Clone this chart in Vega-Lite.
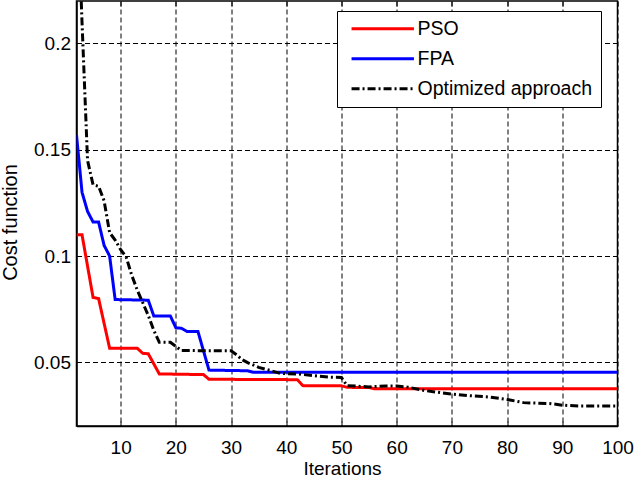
{
  "$schema": "https://vega.github.io/schema/vega-lite/v6.json",
  "width": 541,
  "height": 425,
  "autosize": "none",
  "padding": {"left": 76.5, "top": 1, "right": 17.5, "bottom": 52},
  "background": "white",
  "config": {
    "view": {"stroke": "black", "strokeWidth": 1.5},
    "font": "Liberation Sans",
    "axis": {
      "labelFont": "Liberation Sans",
      "labelColor": "black",
      "labelFontSize": 19,
      "labelFlush": false,
      "labelOverlap": false,
      "titleFont": "Liberation Sans",
      "titleColor": "black",
      "titleFontWeight": "normal",
      "titleFontSize": 19,
      "tickColor": "black",
      "tickWidth": 1,
      "tickSize": -5,
      "domainColor": "black",
      "domainWidth": 1.5,
      "gridColor": "black",
      "gridOpacity": 1,
      "gridWidth": 1,
      "gridDash": [5, 3]
    },
    "legend": {
      "labelFont": "Liberation Sans",
      "labelFontSize": 19.5,
      "labelColor": "black",
      "labelLimit": 400
    }
  },
  "data": {
    "values": [
      {"method": "PSO", "iteration": 2, "cost": 0.110},
      {"method": "PSO", "iteration": 3, "cost": 0.110},
      {"method": "PSO", "iteration": 5, "cost": 0.0805},
      {"method": "PSO", "iteration": 6, "cost": 0.0800},
      {"method": "PSO", "iteration": 8, "cost": 0.0566},
      {"method": "PSO", "iteration": 13, "cost": 0.0566},
      {"method": "PSO", "iteration": 14, "cost": 0.0542},
      {"method": "PSO", "iteration": 15, "cost": 0.0540},
      {"method": "PSO", "iteration": 17, "cost": 0.0445},
      {"method": "PSO", "iteration": 25, "cost": 0.0442},
      {"method": "PSO", "iteration": 26, "cost": 0.0420},
      {"method": "PSO", "iteration": 42, "cost": 0.0418},
      {"method": "PSO", "iteration": 43, "cost": 0.0390},
      {"method": "PSO", "iteration": 50, "cost": 0.0389},
      {"method": "PSO", "iteration": 51, "cost": 0.0382},
      {"method": "PSO", "iteration": 55, "cost": 0.0381},
      {"method": "PSO", "iteration": 56, "cost": 0.0375},
      {"method": "PSO", "iteration": 100, "cost": 0.0375},
      {"method": "FPA", "iteration": 2, "cost": 0.157},
      {"method": "FPA", "iteration": 3, "cost": 0.130},
      {"method": "FPA", "iteration": 4, "cost": 0.121},
      {"method": "FPA", "iteration": 5, "cost": 0.116},
      {"method": "FPA", "iteration": 6, "cost": 0.116},
      {"method": "FPA", "iteration": 7, "cost": 0.105},
      {"method": "FPA", "iteration": 8, "cost": 0.100},
      {"method": "FPA", "iteration": 9, "cost": 0.0795},
      {"method": "FPA", "iteration": 15, "cost": 0.0792},
      {"method": "FPA", "iteration": 16, "cost": 0.0718},
      {"method": "FPA", "iteration": 19, "cost": 0.0718},
      {"method": "FPA", "iteration": 20, "cost": 0.0662},
      {"method": "FPA", "iteration": 21, "cost": 0.0660},
      {"method": "FPA", "iteration": 22, "cost": 0.0645},
      {"method": "FPA", "iteration": 24, "cost": 0.0645},
      {"method": "FPA", "iteration": 26, "cost": 0.0463},
      {"method": "FPA", "iteration": 33, "cost": 0.0460},
      {"method": "FPA", "iteration": 34, "cost": 0.0453},
      {"method": "FPA", "iteration": 100, "cost": 0.0453},
      {"method": "Optimized approach", "iteration": 2, "cost": 0.280},
      {"method": "Optimized approach", "iteration": 3, "cost": 0.210},
      {"method": "Optimized approach", "iteration": 4, "cost": 0.145},
      {"method": "Optimized approach", "iteration": 5, "cost": 0.1335},
      {"method": "Optimized approach", "iteration": 6, "cost": 0.1328},
      {"method": "Optimized approach", "iteration": 7, "cost": 0.126},
      {"method": "Optimized approach", "iteration": 8, "cost": 0.111},
      {"method": "Optimized approach", "iteration": 9, "cost": 0.1075},
      {"method": "Optimized approach", "iteration": 10, "cost": 0.103},
      {"method": "Optimized approach", "iteration": 11, "cost": 0.0995},
      {"method": "Optimized approach", "iteration": 12, "cost": 0.091},
      {"method": "Optimized approach", "iteration": 13, "cost": 0.084},
      {"method": "Optimized approach", "iteration": 14, "cost": 0.078},
      {"method": "Optimized approach", "iteration": 15, "cost": 0.072},
      {"method": "Optimized approach", "iteration": 16, "cost": 0.065},
      {"method": "Optimized approach", "iteration": 17, "cost": 0.0594},
      {"method": "Optimized approach", "iteration": 19, "cost": 0.0594},
      {"method": "Optimized approach", "iteration": 20, "cost": 0.0575},
      {"method": "Optimized approach", "iteration": 21, "cost": 0.0555},
      {"method": "Optimized approach", "iteration": 30, "cost": 0.0554},
      {"method": "Optimized approach", "iteration": 31, "cost": 0.0535},
      {"method": "Optimized approach", "iteration": 32, "cost": 0.0512},
      {"method": "Optimized approach", "iteration": 33, "cost": 0.0498},
      {"method": "Optimized approach", "iteration": 35, "cost": 0.0476},
      {"method": "Optimized approach", "iteration": 37, "cost": 0.0462},
      {"method": "Optimized approach", "iteration": 39, "cost": 0.0447},
      {"method": "Optimized approach", "iteration": 42, "cost": 0.0445},
      {"method": "Optimized approach", "iteration": 45, "cost": 0.0437},
      {"method": "Optimized approach", "iteration": 48, "cost": 0.0430},
      {"method": "Optimized approach", "iteration": 50, "cost": 0.0428},
      {"method": "Optimized approach", "iteration": 51, "cost": 0.0390},
      {"method": "Optimized approach", "iteration": 55, "cost": 0.0384},
      {"method": "Optimized approach", "iteration": 58, "cost": 0.0388},
      {"method": "Optimized approach", "iteration": 60, "cost": 0.0388},
      {"method": "Optimized approach", "iteration": 62, "cost": 0.0383},
      {"method": "Optimized approach", "iteration": 65, "cost": 0.0367},
      {"method": "Optimized approach", "iteration": 70, "cost": 0.0350},
      {"method": "Optimized approach", "iteration": 73, "cost": 0.0343},
      {"method": "Optimized approach", "iteration": 77, "cost": 0.0336},
      {"method": "Optimized approach", "iteration": 80, "cost": 0.0325},
      {"method": "Optimized approach", "iteration": 83, "cost": 0.0310},
      {"method": "Optimized approach", "iteration": 88, "cost": 0.0305},
      {"method": "Optimized approach", "iteration": 90, "cost": 0.0298},
      {"method": "Optimized approach", "iteration": 93, "cost": 0.0294},
      {"method": "Optimized approach", "iteration": 100, "cost": 0.0294}
    ]
  },
  "layer": [
    {
      "mark": {"type": "line", "strokeWidth": 3, "clip": true},
      "encoding": {
        "x": {
          "field": "iteration",
          "type": "quantitative",
          "scale": {"domain": [2, 100], "nice": false, "zero": false},
          "axis": {
            "orient": "bottom",
            "values": [10, 20, 30, 40, 50, 60, 70, 80, 90, 100],
            "format": "d",
            "grid": true,
            "labelPadding": 17,
            "title": "Iterations",
            "titleX": 265.5,
            "titleY": 48,
            "titleBaseline": "alphabetic"
          }
        },
        "y": {
          "field": "cost",
          "type": "quantitative",
          "scale": {"domain": [0.02, 0.22], "nice": false, "zero": false},
          "axis": {
            "orient": "left",
            "values": [0.05, 0.1, 0.15, 0.2],
            "format": "~g",
            "grid": true,
            "labelPadding": 11,
            "title": "Cost function",
            "titleFontSize": 20,
            "titleAngle": 270,
            "titleX": -60,
            "titleY": 221,
            "titleBaseline": "alphabetic",
            "titleAlign": "center"
          }
        },
        "color": {
          "field": "method",
          "type": "nominal",
          "scale": {
            "domain": ["PSO", "FPA", "Optimized approach"],
            "range": ["#ff0000", "#0000ff", "#000000"]
          },
          "legend": {
            "title": null,
            "orient": "none",
            "legendX": 260.5,
            "legendY": 10,
            "symbolType": "M-3.9,0H3.9",
            "symbolSize": 256,
            "symbolStrokeWidth": 3,
            "symbolOffset": 28,
            "labelOffset": 25,
            "rowPadding": 9,
            "padding": 8,
            "strokeColor": "black",
            "fillColor": "white"
          }
        },
        "strokeDash": {
          "field": "method",
          "type": "nominal",
          "scale": {
            "domain": ["PSO", "FPA", "Optimized approach"],
            "range": [[1, 0], [1, 0], [8, 3, 2, 3]]
          },
          "legend": {
            "title": null,
            "orient": "none",
            "legendX": 260.5,
            "legendY": 10,
            "symbolType": "M-3.9,0H3.9",
            "symbolSize": 256,
            "symbolStrokeWidth": 3,
            "symbolOffset": 28,
            "labelOffset": 25,
            "rowPadding": 9,
            "padding": 8,
            "strokeColor": "black",
            "fillColor": "white"
          }
        }
      }
    },
    {
      "mark": {"type": "line", "opacity": 0, "clip": true},
      "encoding": {
        "x": {
          "field": "iteration",
          "type": "quantitative",
          "axis": {
            "orient": "top",
            "values": [10, 20, 30, 40, 50, 60, 70, 80, 90, 100],
            "labels": false,
            "grid": false,
            "domain": false,
            "title": null
          }
        },
        "y": {
          "field": "cost",
          "type": "quantitative",
          "axis": {
            "orient": "right",
            "values": [0.05, 0.1, 0.15, 0.2],
            "labels": false,
            "grid": false,
            "domain": false,
            "title": null
          }
        },
        "detail": {"field": "method"}
      }
    }
  ],
  "resolve": {"axis": {"x": "independent", "y": "independent"}}
}
